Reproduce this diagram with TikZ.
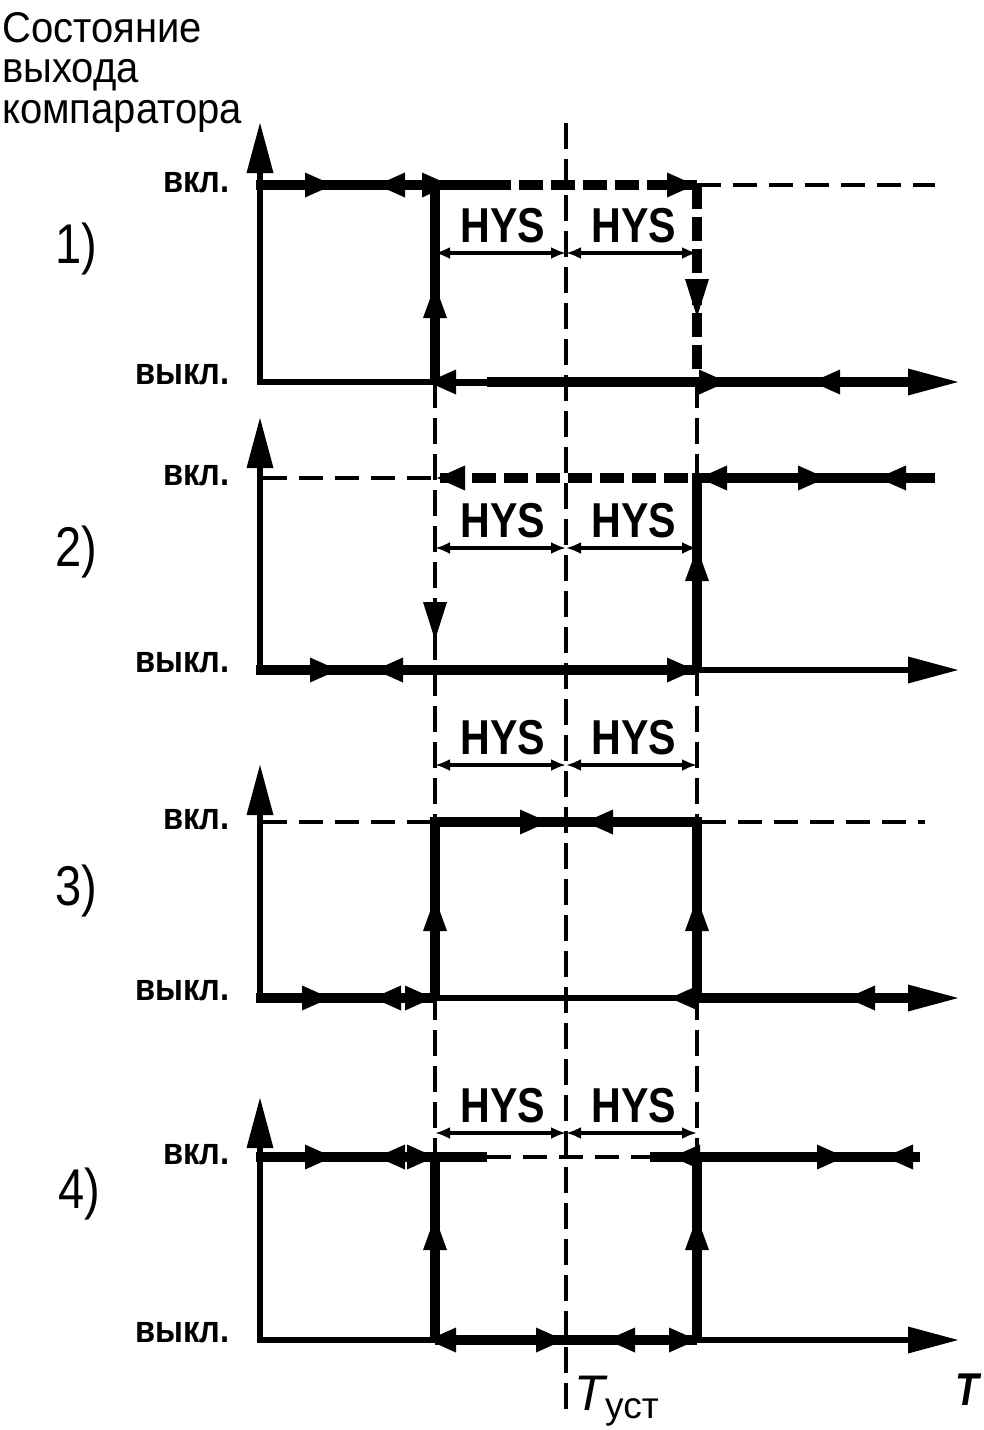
\documentclass[tikz,border=0pt]{standalone}
\usepackage{fontspec}
\setmainfont{Liberation Sans}
\newfontfamily\cnd{Liberation Sans}[FakeStretch=0.84]
\newfontfamily\lblf{Liberation Sans}[FakeStretch=0.86]
\newfontfamily\ttlf{Liberation Sans}[FakeStretch=0.93]
\usetikzlibrary{arrows.meta}
\tikzset{
  axisln/.style={line width=6.5pt},
  pathln/.style={line width=10pt},
  medln/.style={line width=7pt},
  refdash/.style={line width=4pt, dash pattern=on 24pt off 12pt},
  vdash/.style={line width=4pt, dash pattern=on 26pt off 10pt},
  thickdash/.style={line width=10pt, dash pattern=on 24pt off 8pt},
  dimln/.style={line width=3.2pt, {Latex[length=15pt,width=12pt]}-{Latex[length=15pt,width=12pt]}},
  hys/.style={font=\cnd\bfseries\fontsize{49}{49}\selectfont, anchor=base, inner sep=0pt},
  lab/.style={font=\lblf\bfseries\fontsize{38}{38}\selectfont, anchor=base east, inner sep=0pt},
  num/.style={font=\cnd\fontsize{56}{56}\selectfont, anchor=base west, inner sep=0pt},
  ttl/.style={font=\ttlf\fontsize{43}{43}\selectfont, anchor=base west, inner sep=0pt},
}
% small path arrowheads (tip coordinates)
\newcommand\tR[2]{\fill ({#1-28},{#2-12.5}) -- (#1,#2) -- ({#1-28},{#2+12.5}) -- cycle;}
\newcommand\tL[2]{\fill ({#1+28},{#2-12.5}) -- (#1,#2) -- ({#1+28},{#2+12.5}) -- cycle;}
\newcommand\tU[2]{\fill ({#1-12},{#2+33}) -- (#1,#2) -- ({#1+12},{#2+33}) -- cycle;}
\newcommand\tD[2]{\fill ({#1-12},{#2-38}) -- (#1,#2) -- ({#1+12},{#2-38}) -- cycle;}
% axis arrowheads
\newcommand\aU[2]{\fill ({#1-13.5},{#2+50}) -- (#1,#2) -- ({#1+13.5},{#2+50}) -- cycle;}
\newcommand\aR[2]{\fill ({#1-50},{#2-13.5}) -- (#1,#2) -- ({#1-50},{#2+13.5}) -- cycle;}
% axes of one panel: top of y-arrow, off level
\newcommand\axes[2]{\draw[axisln] (260,{#1+45}) -- (260,#2) -- (912,#2); \aU{260}{#1}\aR{958}{#2}}
\newcommand\dims[1]{%
  \draw[dimln] (435,#1) -- (566,#1);
  \draw[dimln] (566,#1) -- (697,#1);
  \node[hys] at (503,{#1-11}) {HYS};
  \node[hys] at (634,{#1-11}) {HYS};}
\begin{document}
\begin{tikzpicture}[x=1pt,y=-1pt]
\useasboundingbox (0,0) rectangle (984,1430);
\fill[white] (0,0) rectangle (984,1430);
% title
\node[ttl] (t1) at (2,42) {Состояние};
\node[ttl] (t2) at (2,82) {выхода};
\node[ttl] (t3) at (2,123) {компаратора};
% long dashed verticals
\draw[vdash] (566,123) -- (566,1410);
\draw[vdash] (435,382) -- (435,1157);
\draw[vdash] (697,382) -- (697,1157);
% ---------------- panel 1
\axes{123}{382}
\node[lab] at (230,192) {вкл.};
\node[lab] at (230,384) {выкл.};
\node[num] at (55,263) {1)};
\draw[pathln] (256,185) -- (487,185);
\tR{333}{185}\tL{377}{185}\tR{450}{185}
\draw[thickdash] (487,185) -- (697,185);
\tR{695}{185}
\draw[refdash] (697,185) -- (935,185);
\draw[pathln] (435,180) -- (435,382);
\tU{435}{285}
\draw[thickdash] (697,185) -- (697,382);
\tD{697}{317}
\draw[medln] (435,382) -- (487,382);
\draw[pathln] (487,382) -- (912,382);
\tL{428}{382}\tR{727}{382}\tL{812}{382}
\dims{253}
% ---------------- panel 2
\axes{418}{670}
\node[lab] at (230,485) {вкл.};
\node[lab] at (230,672) {выкл.};
\node[num] at (55,566) {2)};
\draw[refdash] (263,478) -- (435,478);
\draw[thickdash] (440,478) -- (697,478);
\tL{437}{478}
\draw[pathln] (697,478) -- (935,478);
\tL{699}{478}\tR{826}{478}\tL{878}{478}
\tD{435}{640}
\draw[pathln] (697,473) -- (697,670);
\tU{697}{548}
\draw[pathln] (256,670) -- (697,670);
\tR{338}{670}\tL{375}{670}\tR{695}{670}
\dims{548}
% ---------------- panel 3
\axes{765}{998}
\node[lab] at (230,829) {вкл.};
\node[lab] at (230,1000) {выкл.};
\node[num] at (55,905) {3)};
\draw[refdash] (263,822) -- (435,822);
\draw[pathln] (430,822) -- (702,822);
\tR{548}{822}\tL{585}{822}
\draw[refdash] (702,822) -- (925,822);
\draw[pathln] (435,822) -- (435,998);
\tU{435}{898}
\draw[pathln] (697,822) -- (697,998);
\tU{697}{898}
\draw[pathln] (256,998) -- (435,998);
\tR{330}{998}\tL{373}{998}\tR{433}{998}
\tL{670}{998}
\draw[pathln] (697,998) -- (912,998);
\tL{847}{998}
\dims{765}
% ---------------- panel 4
\axes{1098}{1340}
\node[lab] at (230,1164) {вкл.};
\node[lab] at (230,1342) {выкл.};
\node[num] at (58,1208) {4)};
\draw[pathln] (256,1157) -- (487,1157);
\tR{333}{1157}\tL{377}{1157}\tR{435}{1157}
\draw[refdash] (487,1157) -- (650,1157);
\draw[pathln] (650,1157) -- (920,1157);
\tL{672}{1157}\tR{845}{1157}\tL{885}{1157}
\draw[pathln] (435,1152) -- (435,1340);
\tU{435}{1217}
\draw[pathln] (697,1152) -- (697,1340);
\tU{697}{1217}
\draw[pathln] (435,1340) -- (697,1340);
\tL{428}{1340}\tR{564}{1340}\tL{607}{1340}\tR{697}{1340}
\dims{1133}
% labels at the bottom
\node[anchor=base west, inner sep=0pt, font=\itshape\fontsize{50}{50}\selectfont] at (574,1410) {T};
\node[anchor=base west, inner sep=0pt, font=\fontsize{37}{37}\selectfont] at (605,1418) {уст};
\node[anchor=base west, inner sep=0pt, font=\cnd\bfseries\itshape\fontsize{46}{46}\selectfont] at (955,1405) {T};
\end{tikzpicture}
\end{document}
